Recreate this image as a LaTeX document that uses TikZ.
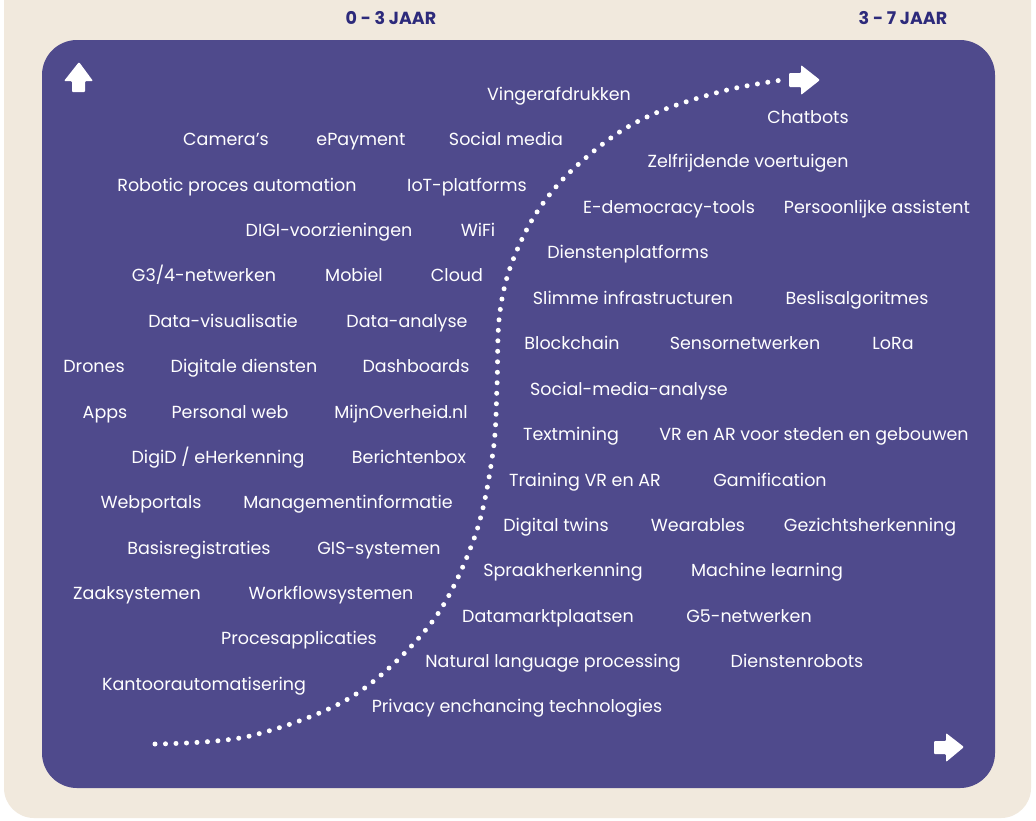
\documentclass[tikz,border=0pt]{standalone}
\usepackage{fontspec}
\setmainfont{Poppins}
\definecolor{panel}{HTML}{4F4A8C}
\definecolor{sand}{HTML}{F1E9DD}
\definecolor{navy}{HTML}{2D2A7B}
\tikzset{
  tech/.style={text=white, inner sep=0pt, anchor=center, text height=12pt, text depth=0pt,
    font=\fontsize{17.5}{20}\selectfont},
  period/.style={text=navy, inner sep=0pt, anchor=center, text height=12pt, text depth=0pt,
    font=\fontsize{17.5}{20}\selectfont\bfseries},
  dots/.style={white, line width=5pt, line cap=round, dash pattern=on 0pt off 10.5pt},
  arrowshape/.style={fill=white, rounded corners=1pt}
}
\begin{document}
\begin{tikzpicture}[x=1pt, y=-1pt]
\useasboundingbox (0,0) rectangle (1036,820);
% backgrounds
\fill[white] (0,0) rectangle (1036,820);
\fill[sand, rounded corners=30pt] (4,-40) rectangle (1031,818);
\fill[panel, rounded corners=35pt] (42,40) rectangle (995,788);

% period headings
\node[period] (p03) at (391,18) {0 - 3 JAAR};
\node[period] (p37) at (903,18) {3 - 7 JAAR};

% axis arrows
\fill[arrowshape] (79,62) -- (93,81) -- (85,81) -- (85,92) -- (72,92) -- (72,81) -- (64,81) -- cycle;
\fill[arrowshape] (820,80) -- (801,65) -- (801,73) -- (789,73) -- (789,87) -- (801,87) -- (801,95) -- cycle;
\fill[arrowshape] (964,747) -- (946,733) -- (946,741) -- (934,741) -- (934,754) -- (946,754) -- (946,762) -- cycle;

% adoption curve
\coordinate (cstart) at (155,744);
\coordinate (cend) at (782,80);
\draw[dots] plot[smooth, tension=0.55] coordinates {
  (155,744) (250,736) (353,696) (432,622) (475,536) (493,452) (497,386)
  (499,320) (509,271) (532,220) (565,177) (615,135) (663,110) (727,90) (782,80)};

% technologies
\node[tech] (vinger) at (559,94) {Vingerafdrukken};
\node[tech] (chatbots) at (808,117) {Chatbots};
\node[tech] (camera) at (226,139) {Camera’s};
\node[tech] (epay) at (361,139) {ePayment};
\node[tech] (social) at (506,139) {Social media};
\node[tech] (zelfrij) at (748,161) {Zelfrijdende voertuigen};
\node[tech] (rpa) at (237,185) {Robotic proces automation};
\node[tech] (iot) at (467,185) {IoT-platforms};
\node[tech] (edemo) at (669,207) {E-democracy-tools};
\node[tech] (assist) at (877,207) {Persoonlijke assistent};
\node[tech] (digi) at (329,230) {DIGI-voorzieningen};
\node[tech] (wifi) at (478,230) {WiFi};
\node[tech] (dplat) at (628,252) {Dienstenplatforms};
\node[tech] (g34) at (204,275) {G3/4-netwerken};
\node[tech] (mobiel) at (354,275) {Mobiel};
\node[tech] (cloud) at (457,275) {Cloud};
\node[tech] (slimme) at (633,298) {Slimme infrastructuren};
\node[tech] (besl) at (857,298) {Beslisalgoritmes};
\node[tech] (dvis) at (223,321) {Data-visualisatie};
\node[tech] (dana) at (407,321) {Data-analyse};
\node[tech] (block) at (572,343) {Blockchain};
\node[tech] (sensor) at (745,343) {Sensornetwerken};
\node[tech] (lora) at (893,343) {LoRa};
\node[tech] (drones) at (94,366) {Drones};
\node[tech] (ddien) at (244,366) {Digitale diensten};
\node[tech] (dash) at (416,366) {Dashboards};
\node[tech] (sma) at (629,389) {Social-media-analyse};
\node[tech] (apps) at (105,412) {Apps};
\node[tech] (pweb) at (230,412) {Personal web};
\node[tech] (mijn) at (401,412) {MijnOverheid.nl};
\node[tech] (textm) at (571,434) {Textmining};
\node[tech] (vrsteden) at (814,434) {VR en AR voor steden en gebouwen};
\node[tech] (digid) at (218,457) {DigiD / eHerkenning};
\node[tech] (bericht) at (409,457) {Berichtenbox};
\node[tech] (trainvr) at (585,480) {Training VR en AR};
\node[tech] (gamif) at (770,480) {Gamification};
\node[tech] (webp) at (151,502) {Webportals};
\node[tech] (mgmt) at (348,502) {Managementinformatie};
\node[tech] (twins) at (556,525) {Digital twins};
\node[tech] (wear) at (698,525) {Wearables};
\node[tech] (gezicht) at (870,525) {Gezichtsherkenning};
\node[tech] (basis) at (199,548) {Basisregistraties};
\node[tech] (gis) at (379,548) {GIS-systemen};
\node[tech] (spraak) at (563,570) {Spraakherkenning};
\node[tech] (ml) at (767,570) {Machine learning};
\node[tech] (zaak) at (137,593) {Zaaksystemen};
\node[tech] (workfl) at (331,593) {Workflowsystemen};
\node[tech] (dmarkt) at (548,616) {Datamarktplaatsen};
\node[tech] (g5) at (749,616) {G5-netwerken};
\node[tech] (proces) at (299,638) {Procesapplicaties};
\node[tech] (nlp) at (553,661) {Natural language processing};
\node[tech] (drobot) at (797,661) {Dienstenrobots};
\node[tech] (kantoor) at (204,684) {Kantoorautomatisering};
\node[tech] (privacy) at (517,706) {Privacy enchancing technologies};
\end{tikzpicture}
\end{document}
